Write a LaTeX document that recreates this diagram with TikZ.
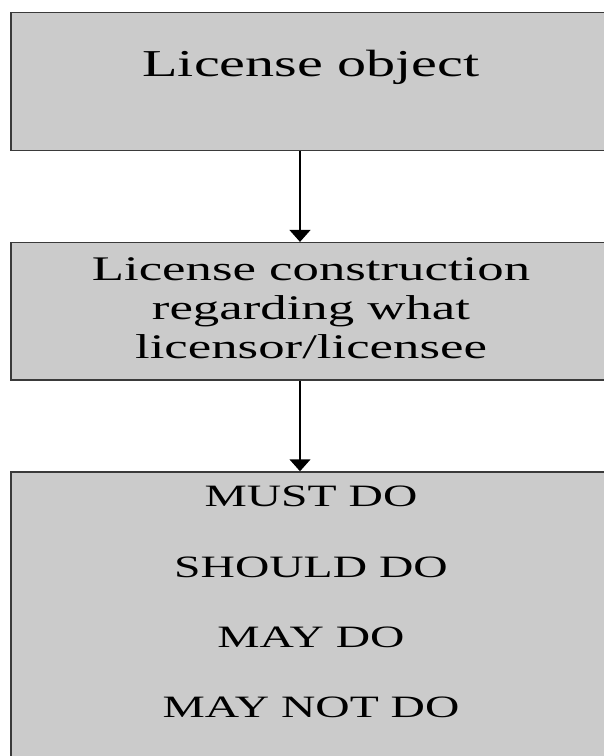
\documentclass[tikz,border=0pt]{standalone}
\usepackage{fontspec}
\setmainfont{Liberation Serif}
\newfontfamily\widefont[FakeStretch=1.53]{Liberation Serif}
\usetikzlibrary{arrows.meta,calc}
\definecolor{boxgray}{HTML}{CBCBCB}
\definecolor{edgegray}{HTML}{3A3A3A}
\tikzset{
  panel/.style={draw=edgegray, fill=boxgray, line width=1.5bp, rectangle,
    minimum width=600bp, inner sep=0pt},
  bigtxt/.style={font=\widefont\fontsize{38bp}{44bp}\selectfont, anchor=base, inner sep=0pt},
  midtxt/.style={font=\widefont\fontsize{34.5bp}{39bp}\selectfont, anchor=base, inner sep=0pt},
  listtxt/.style={font=\widefont\fontsize{31.1bp}{36bp}\selectfont, anchor=base, inner sep=0pt},
  flow/.style={-{Triangle[length=12bp,width=21bp]}, line width=1.5bp, color=black},
}
\begin{document}
\begin{tikzpicture}[x=1bp,y=-1bp]
  \useasboundingbox (0,0) rectangle (604,756);
  \clip (0,0) rectangle (604,756);
  % the three panels
  \node[panel, minimum height=138bp] (object) at (311,81.7) {};
  \node[panel, minimum height=137.3bp] (constr) at (311,311.3) {};
  \node[panel, minimum height=298bp] (duties) at (311,621) {};
  % texts
  \node[bigtxt] (objtxt) at (311,76.7) {License object};
  \foreach \y/\t [count=\n] in {280/{License construction},319/{regarding what},358/{licensor/licensee}}
    \node[midtxt] (constr\n) at (311,\y) {\t};
  \foreach \y/\t [count=\n] in {506/{MUST DO},577/{SHOULD DO},647/{MAY DO},717/{MAY NOT DO}}
    \node[listtxt] (duty\n) at (311,\y) {\t};
  % connectors
  \coordinate (spine) at (300,0);
  \draw[flow] (object.south -| spine) -- (constr.north -| spine);
  \draw[flow] (constr.south -| spine) -- (duties.north -| spine);
\end{tikzpicture}
\end{document}
